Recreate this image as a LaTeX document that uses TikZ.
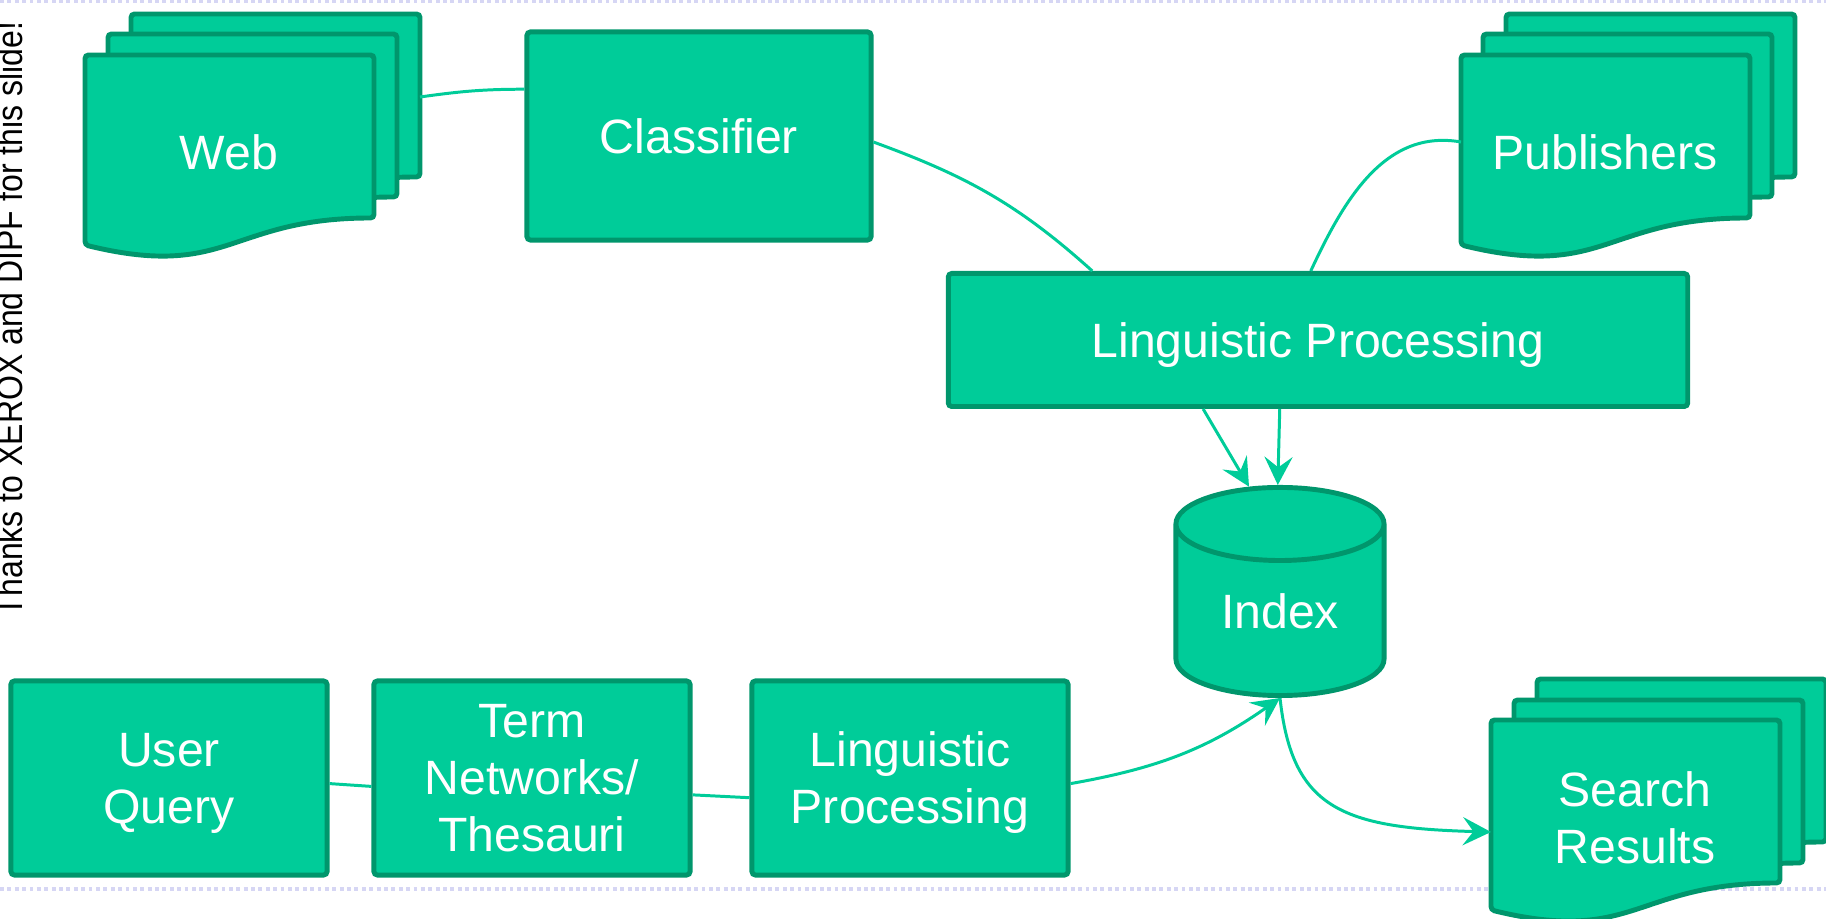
\documentclass[tikz,border=0pt]{standalone}
\usepackage{fontspec}
\usepackage{graphicx}
\setmainfont{Liberation Sans}
\usetikzlibrary{shapes.geometric, arrows.meta}

\definecolor{boxfill}{RGB}{0,204,153}
\definecolor{boxline}{RGB}{0,150,108}
\definecolor{linkcol}{RGB}{0,204,153}
\definecolor{sepcol}{RGB}{214,214,244}

\newcommand{\boxfont}{\fontsize{13.7}{16.2}\selectfont}
% one page of a document stack, top left corner given in pixels
\newcommand{\docpage}[2]{%
  \draw[pagebox, shift={(#1,#2)}] (0,0) -- (289,0) -- (289,163)
    .. controls (144,163) and (144,225) .. (0,190) -- cycle;}

\tikzset{
  pagebox/.style={draw=boxline, fill=boxfill, line width=1.4pt, rounded corners=1pt},
  box/.style={pagebox, text=white, font=\boxfont, align=center, inner sep=0pt, text depth=0pt},
  doctext/.style={text=white, font=\boxfont, align=center, inner sep=0pt},
  dbbox/.style={box, rounded corners=0pt, cylinder, shape border rotate=90, aspect=0.62,
    minimum width=2.08cm, minimum height=2.08cm},
  link/.style={draw=linkcol, line width=0.85pt},
  arrow/.style={link, -{Stealth[length=8pt, width=8pt, inset=3pt]}},
  sepline/.style={draw=sepcol, line width=1.1pt, dash pattern=on 1.1pt off 1pt},
  note/.style={font=\fontsize{9.1}{11}\selectfont, inner sep=0pt}
}

\begin{document}
\begin{tikzpicture}[x=0.01cm, y=-0.01cm]
  \useasboundingbox (0,0) rectangle (1826,919);
  \draw[sepline] (0,1) -- (1826,1);
  \draw[sepline] (0,889) -- (1826,889);
  \node[note, rotate=90, anchor=base] (thanks) at (22,319) {\scalebox{1}[1.13]{Thanks to XEROX and DIPF for this slide!}};

  % document stacks
  \docpage{131}{14} \docpage{108}{34} \docpage{85}{55}
  \node[doctext] (web) at (229,152) {Web};
  \coordinate (webback) at (420,97);

  \docpage{1506}{14} \docpage{1483}{34} \docpage{1461}{55}
  \node[doctext] (pub) at (1605,152) {Publishers};
  \coordinate (pubfront) at (1461,142);

  \docpage{1537}{679} \docpage{1514}{700} \docpage{1491}{720}
  \node[doctext] (results) at (1635,818) {Search\\Results};
  \coordinate (resfront) at (1491,832);

  % boxes
  \node[box, minimum width=3.44cm, minimum height=2.08cm] (classifier) at (699,136) {Classifier};
  \node[box, minimum width=7.39cm, minimum height=1.33cm] (lingproc) at (1318,340) {Linguistic Processing};
  \node[dbbox] (index) at (1280,611) {Index};
  \node[box, minimum width=3.16cm, minimum height=1.94cm] (userq) at (169,778) {User\\Query};
  \node[box, minimum width=3.16cm, minimum height=1.94cm] (term) at (532,778) {Term\\Networks/\\Thesauri};
  \node[box, minimum width=3.16cm, minimum height=1.94cm] (lingproc2) at (910,778) {Linguistic\\Processing};

  % links
  \draw[link] (webback) to[out=8, in=180] (classifier.165);
  \draw[link] (classifier.-2) to[out=-20, in=138] (lingproc.163);
  \draw[link] (pubfront) to[out=170, in=65] (lingproc.96);
  \draw[arrow] (lingproc.211) -- (index.104);
  \draw[arrow] (lingproc.241) -- (index.91);
  \draw[link] (userq.-2) -- (term.183);
  \draw[link] (term.-6) -- (lingproc2.187);
  \draw[arrow] (lingproc2.-2) to[out=10, in=215] (index.south);
  \draw[arrow] (index.south) .. controls +(12,110) and +(-150,-4) .. (resfront);
\end{tikzpicture}
\end{document}
